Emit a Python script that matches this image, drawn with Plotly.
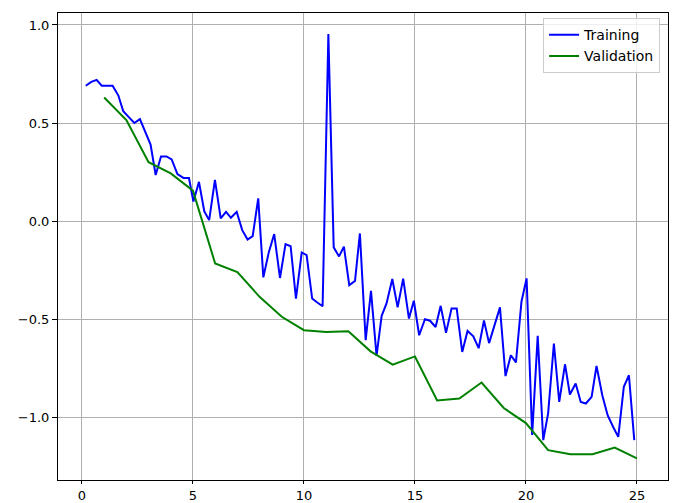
import plotly.graph_objects as go

train_x = [0.17, 0.42, 0.66, 0.89, 1.13, 1.38, 1.64, 1.86, 2.11, 2.36, 2.61, 2.84, 3.09, 3.32, 3.56, 3.81,
           4.04, 4.30, 4.57, 4.82, 5.02, 5.27, 5.51, 5.73, 5.99, 6.25, 6.49, 6.71, 6.97, 7.22, 7.46, 7.69,
           7.94, 8.17, 8.42, 8.66, 8.92, 9.17, 9.40, 9.64, 9.90, 10.12, 10.37, 10.60, 10.84, 11.10, 11.34,
           11.58, 11.80, 12.04, 12.30, 12.52, 12.78, 13.02, 13.27, 13.50, 13.72, 13.98, 14.22, 14.47, 14.73,
           14.95, 15.19, 15.45, 15.68, 15.93, 16.16, 16.40, 16.65, 16.88, 17.13, 17.37, 17.63, 17.87, 18.11,
           18.34, 18.58, 18.83, 19.08, 19.32, 19.55, 19.80, 20.03, 20.28, 20.53, 20.78, 21.00, 21.26, 21.50,
           21.76, 21.98, 22.24, 22.47, 22.70, 22.96, 23.18, 23.44, 23.68, 23.93, 24.16, 24.41, 24.64, 24.88]
train_y = [0.69, 0.71, 0.72, 0.69, 0.69, 0.69, 0.64, 0.56, 0.53, 0.50, 0.52, 0.46, 0.39, 0.235, 0.33, 0.33,
           0.315, 0.24, 0.22, 0.22, 0.10, 0.20, 0.05, 0.005, 0.21, 0.014, 0.047, 0.017, 0.047, -0.046, -0.094,
           -0.077, 0.116, -0.287, -0.157, -0.066, -0.29, -0.117, -0.128, -0.395, -0.16, -0.173, -0.395, -0.415,
           -0.434, 0.954, -0.134, -0.18, -0.13, -0.327, -0.305, -0.063, -0.607, -0.356, -0.687, -0.483, -0.42,
           -0.295, -0.44, -0.293, -0.497, -0.406, -0.582, -0.50, -0.508, -0.54, -0.432, -0.57, -0.445, -0.445,
           -0.667, -0.56, -0.587, -0.648, -0.507, -0.622, -0.532, -0.44, -0.79, -0.684, -0.72, -0.41, -0.292,
           -1.09, -0.585, -1.117, -0.98, -0.624, -0.922, -0.73, -0.884, -0.828, -0.922, -0.93, -0.896, -0.738,
           -0.888, -0.99, -1.05, -1.10, -0.845, -0.786, -1.117]

val_x = list(range(1, 26))
val_y = [0.63, 0.515, 0.30, 0.243, 0.155, -0.216, -0.26, -0.386, -0.488, -0.556, -0.565, -0.562, -0.664,
         -0.732, -0.69, -0.915, -0.905, -0.823, -0.953, -1.03, -1.168, -1.189, -1.189, -1.155, -1.21]

x_ticks = [0, 5, 10, 15, 20, 25]
y_ticks = [-1.0, -0.5, 0.0, 0.5, 1.0]
y_tick_text = ["\u22121.0", "\u22120.5", "0.0", "0.5", "1.0"]

fig = go.Figure()
fig.add_trace(go.Scatter(x=train_x, y=train_y, mode="lines", name="Training",
                         line=dict(color="#0000ff", width=2)))
fig.add_trace(go.Scatter(x=val_x, y=val_y, mode="lines", name="Validation",
                         line=dict(color="#008000", width=2)))

axis_common = dict(showline=True, linecolor="black", linewidth=1, mirror=True,
                   showgrid=True, gridcolor="#b0b0b0", gridwidth=1, zeroline=False,
                   ticks="outside", tickcolor="black", tickwidth=1,
                   tickfont=dict(family="DejaVu Sans", size=13, color="black"))

fig.update_xaxes(range=[-1.08, 26.4], tickvals=x_ticks, ticklen=3, **axis_common)
fig.update_yaxes(range=[-1.32, 1.061], tickvals=y_ticks, ticktext=y_tick_text, ticklen=5, **axis_common)

fig.update_layout(
    width=675, height=503,
    margin=dict(l=58, r=7, t=13, b=23, autoexpand=False),
    plot_bgcolor="white", paper_bgcolor="white",
    font=dict(family="DejaVu Sans", size=13, color="black"),
    legend=dict(x=0.987, y=0.989, xanchor="right", yanchor="top",
                bgcolor="rgba(255,255,255,0.8)", bordercolor="#cccccc", borderwidth=1,
                font=dict(family="DejaVu Sans", size=14)),
    showlegend=True,
)

fig.write_html("out.html", config={"displayModeBar": False},
               post_script="document.body.style.margin='0';document.body.style.overflow='hidden';")
